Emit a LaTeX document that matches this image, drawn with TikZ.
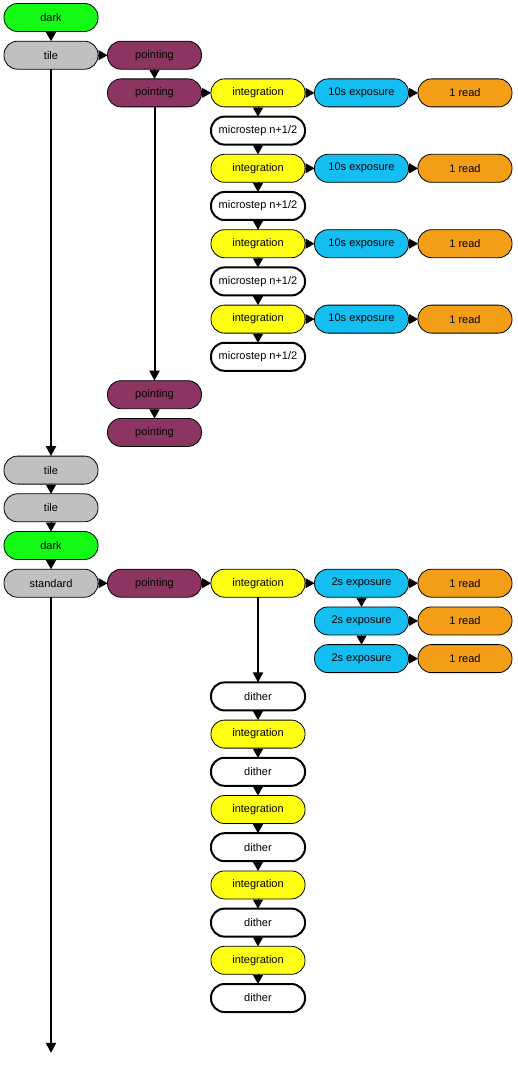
\documentclass[tikz,border=0pt]{standalone}
\usepackage{fontspec}
\setmainfont{Liberation Sans}
\usepackage{tikz}
\usetikzlibrary{arrows.meta,positioning}
\usepackage{xcolor}
\definecolor{ink}{RGB}{0,0,0}
\definecolor{darkc}{RGB}{20,250,20}
\definecolor{tilec}{RGB}{192,192,192}
\definecolor{pointc}{RGB}{140,52,98}
\definecolor{integc}{RGB}{255,255,20}
\definecolor{expc}{RGB}{20,190,240}
\definecolor{readc}{RGB}{243,158,22}
\tikzset{
  stage/.style={draw=ink,line width=0.8pt,rounded corners=13.5pt,
    minimum width=94pt,minimum height=28pt,inner sep=0pt,outer sep=0pt,
    font=\fontsize{11}{13}\selectfont,align=center},
  darkbox/.style={stage,fill=darkc},
  tilebox/.style={stage,fill=tilec},
  pointbox/.style={stage,fill=pointc},
  intbox/.style={stage,fill=integc},
  expbox/.style={stage,fill=expc},
  readbox/.style={stage,fill=readc},
  movebox/.style={stage,fill=white,line width=2pt},
  arr/.style={-{Triangle[length=9pt,width=10pt]},line width=0.8pt,ink},
  longarr/.style={-{Triangle[length=10pt,width=10pt]},line width=2pt,ink},
}
\begin{document}
\begin{tikzpicture}[x=1pt,y=1pt,node distance=9.7pt and 9.5pt]
  \useasboundingbox (0,0) rectangle (517,-1067);
  % first dark and tile
  \node[darkbox] (dark1) at (51,-17.5) {dark};
  \node[tilebox,below=of dark1] (tile1) {tile};
  \node[pointbox,right=of tile1] (pt1) {pointing};
  \node[pointbox,below=of pt1] (pt2) {pointing};
  % microstepped integrations
  \node[intbox,right=of pt2] (int1) {integration};
  \node[expbox,right=of int1] (exp1) {10s exposure};
  \node[readbox,right=of exp1] (rd1) {1 read};
  \node[movebox,below=of int1] (ms1) {microstep n+1/2};
  \node[intbox,below=of ms1] (int2) {integration};
  \node[expbox,right=of int2] (exp2) {10s exposure};
  \node[readbox,right=of exp2] (rd2) {1 read};
  \node[movebox,below=of int2] (ms2) {microstep n+1/2};
  \node[intbox,below=of ms2] (int3) {integration};
  \node[expbox,right=of int3] (exp3) {10s exposure};
  \node[readbox,right=of exp3] (rd3) {1 read};
  \node[movebox,below=of int3] (ms3) {microstep n+1/2};
  \node[intbox,below=of ms3] (int4) {integration};
  \node[expbox,right=of int4] (exp4) {10s exposure};
  \node[readbox,right=of exp4] (rd4) {1 read};
  \node[movebox,below=of int4] (ms4) {microstep n+1/2};
  % later pointings and tiles
  \node[pointbox,below=273.8pt of pt2] (pt3) {pointing};
  \node[pointbox,below=of pt3] (pt4) {pointing};
  \node[tilebox,below=386.9pt of tile1] (tile2) {tile};
  \node[tilebox,below=of tile2] (tile3) {tile};
  \node[darkbox,below=of tile3] (dark2) {dark};
  % standard
  \node[tilebox,below=of dark2] (std) {standard};
  \node[pointbox,right=of std] (pt5) {pointing};
  \node[intbox,right=of pt5] (int5) {integration};
  \node[expbox,right=of int5] (exp5) {2s exposure};
  \node[readbox,right=of exp5] (rd5) {1 read};
  \node[expbox,below=of exp5] (exp6) {2s exposure};
  \node[readbox,right=of exp6] (rd6) {1 read};
  \node[expbox,below=of exp6] (exp7) {2s exposure};
  \node[readbox,right=of exp7] (rd7) {1 read};
  % dithers
  \node[movebox,below=85.2pt of int5] (dith1) {dither};
  \node[intbox,below=of dith1] (int6) {integration};
  \node[movebox,below=of int6] (dith2) {dither};
  \node[intbox,below=of dith2] (int7) {integration};
  \node[movebox,below=of int7] (dith3) {dither};
  \node[intbox,below=of dith3] (int8) {integration};
  \node[movebox,below=of int8] (dith4) {dither};
  \node[intbox,below=of dith4] (int9) {integration};
  \node[movebox,below=of int9] (dith5) {dither};
  \coordinate[below=455.7pt of std] (stdend);
  % connectors
  \draw[arr] (dark1) -- (tile1);
  \draw[arr] (tile1) -- (pt1);
  \draw[arr] (pt1) -- (pt2);
  \draw[arr] (pt2) -- (int1);
  \draw[arr] (int1) -- (exp1);
  \draw[arr] (exp1) -- (rd1);
  \draw[arr] (int1) -- (ms1);
  \draw[arr] (ms1) -- (int2);
  \draw[arr] (int2) -- (exp2);
  \draw[arr] (exp2) -- (rd2);
  \draw[arr] (int2) -- (ms2);
  \draw[arr] (ms2) -- (int3);
  \draw[arr] (int3) -- (exp3);
  \draw[arr] (exp3) -- (rd3);
  \draw[arr] (int3) -- (ms3);
  \draw[arr] (ms3) -- (int4);
  \draw[arr] (int4) -- (exp4);
  \draw[arr] (exp4) -- (rd4);
  \draw[arr] (int4) -- (ms4);
  \draw[longarr] (pt2) -- (pt3);
  \draw[arr] (pt3) -- (pt4);
  \draw[longarr] (tile1) -- (tile2);
  \draw[arr] (tile2) -- (tile3);
  \draw[arr] (tile3) -- (dark2);
  \draw[arr] (dark2) -- (std);
  \draw[arr] (std) -- (pt5);
  \draw[arr] (pt5) -- (int5);
  \draw[arr] (int5) -- (exp5);
  \draw[arr] (exp5) -- (rd5);
  \draw[arr] (exp5) -- (exp6);
  \draw[arr] (exp6) -- (rd6);
  \draw[arr] (exp6) -- (exp7);
  \draw[arr] (exp7) -- (rd7);
  \draw[longarr] (int5) -- (dith1);
  \draw[arr] (dith1) -- (int6);
  \draw[arr] (int6) -- (dith2);
  \draw[arr] (dith2) -- (int7);
  \draw[arr] (int7) -- (dith3);
  \draw[arr] (dith3) -- (int8);
  \draw[arr] (int8) -- (dith4);
  \draw[arr] (dith4) -- (int9);
  \draw[arr] (int9) -- (dith5);
  \draw[longarr] (std) -- (stdend);
\end{tikzpicture}
\end{document}
